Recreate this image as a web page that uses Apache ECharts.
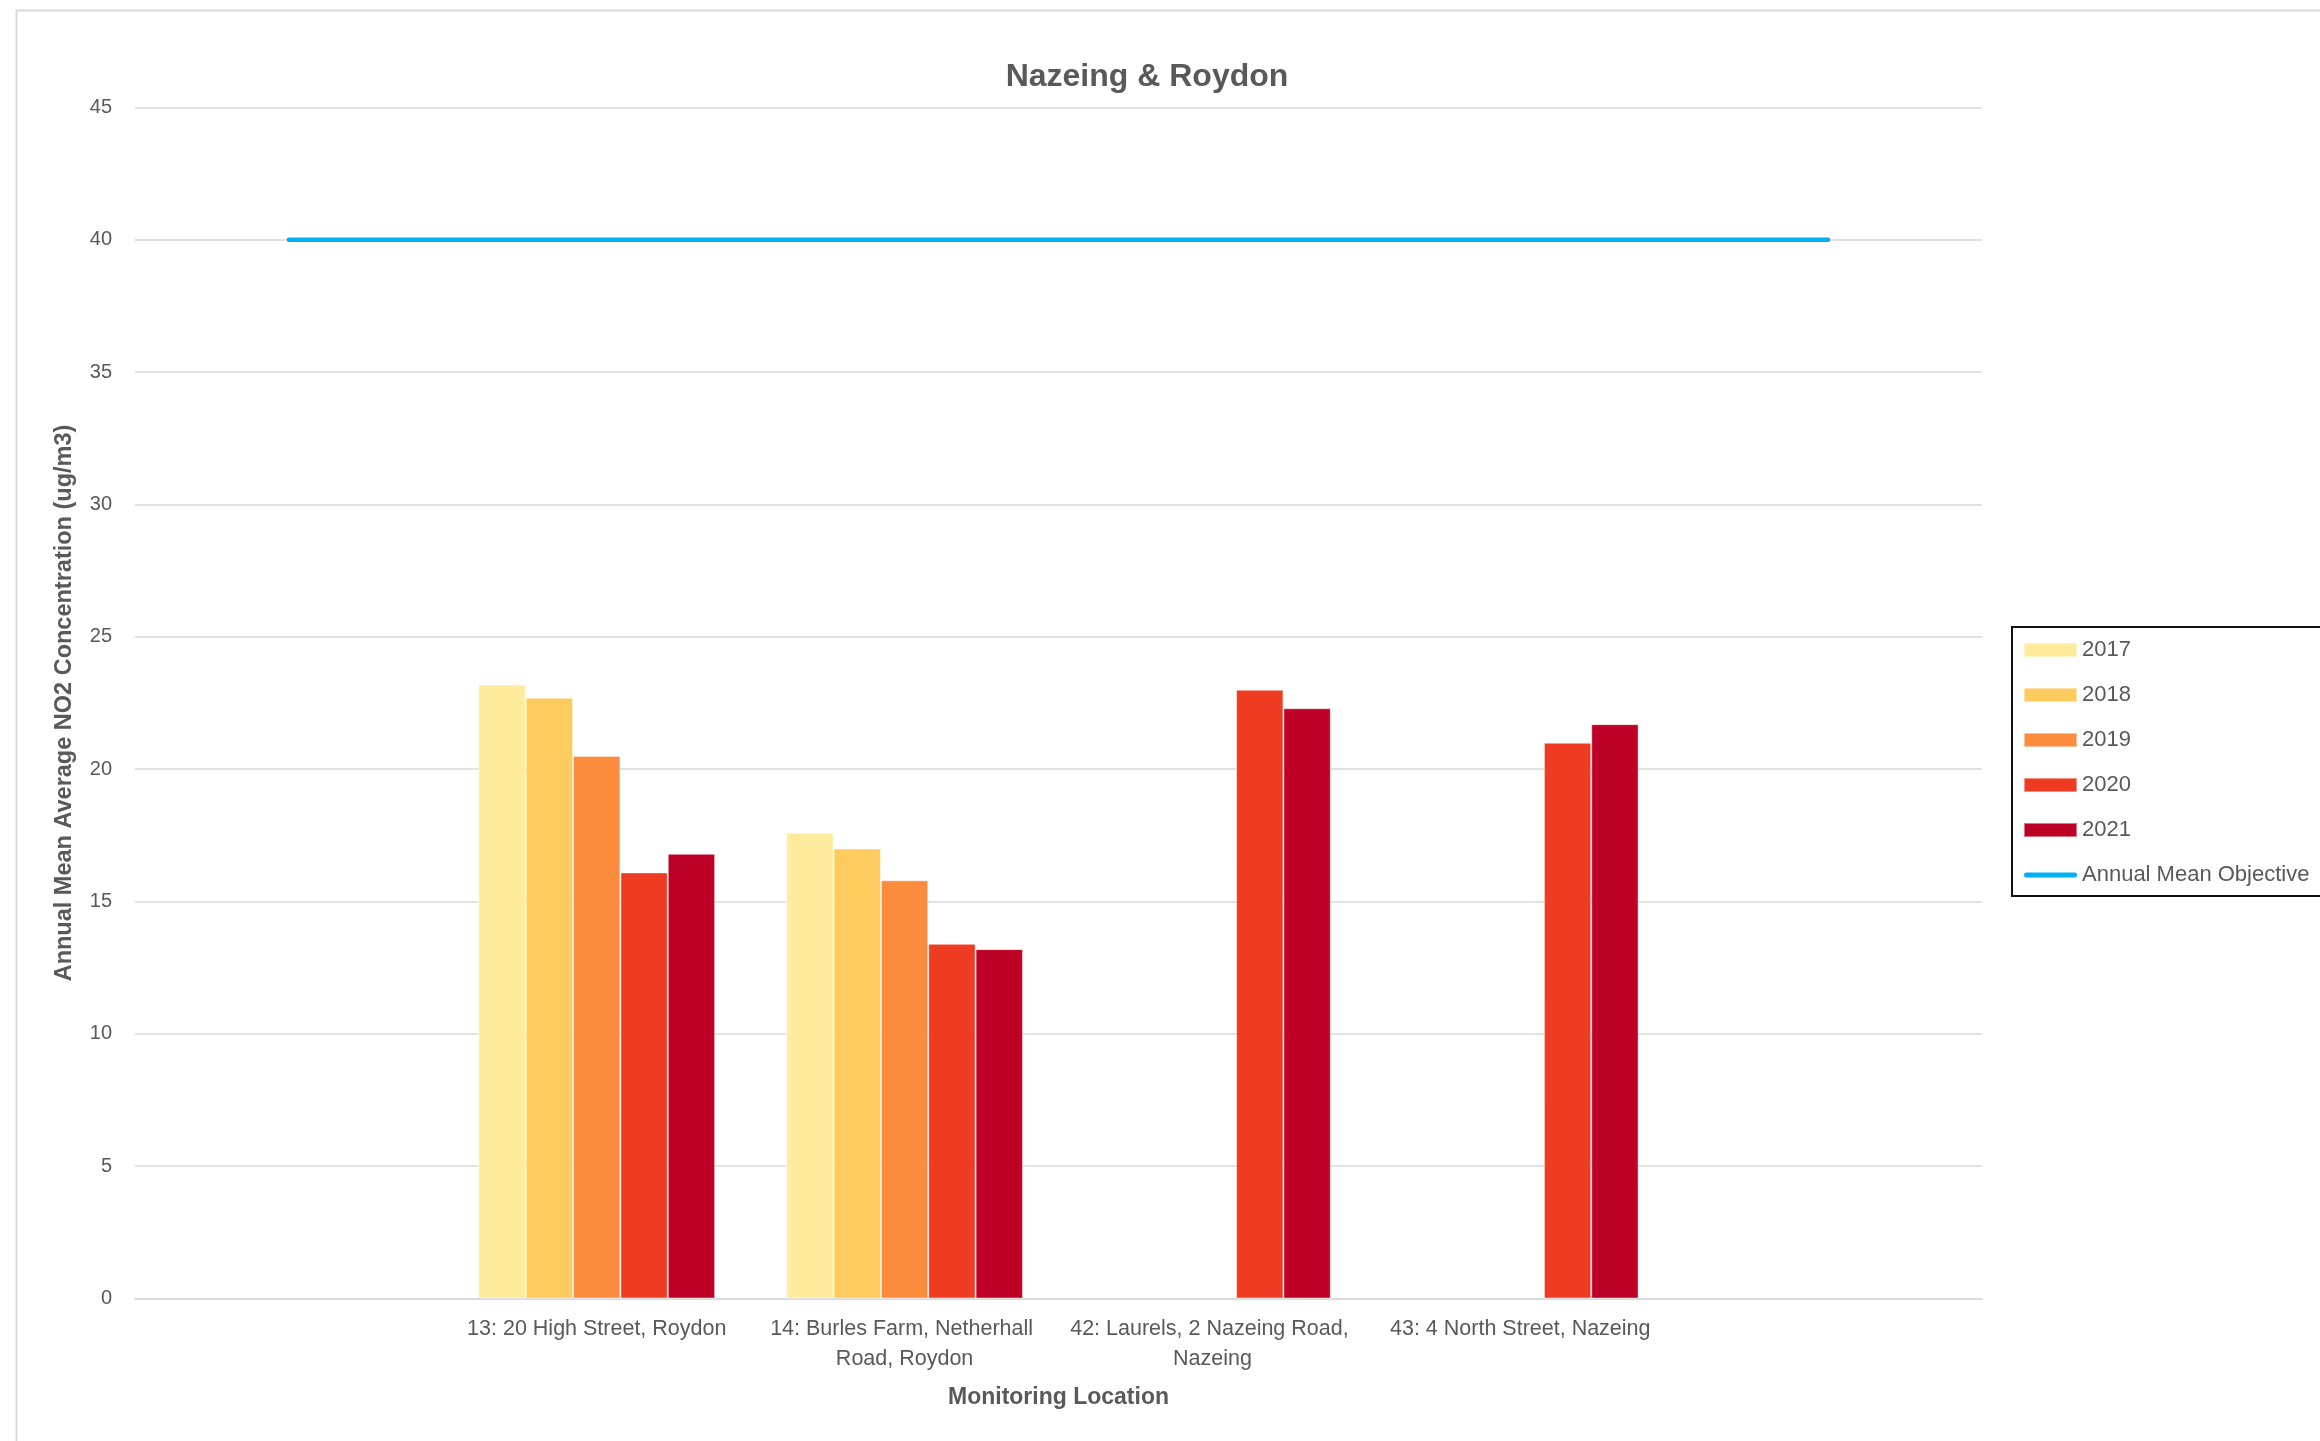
<!DOCTYPE html>
<html>
<head>
<meta charset="utf-8">
<title>Nazeing &amp; Roydon</title>
<script src="https://cdn.jsdelivr.net/npm/echarts@6/dist/echarts.min.js"></script>
<style>
  html, body { margin: 0; padding: 0; background: #ffffff; }
  #chart { width: 2320px; height: 1441px; }
</style>
</head>
<body>
<div id="chart"></div>
<script>
// Monitoring locations (blank slots at each end pad the objective line)
const categories = [
  '',
  '13: 20 High Street, Roydon',
  '14: Burles Farm, Netherhall Road, Roydon',
  '42: Laurels, 2 Nazeing Road, Nazeing',
  '43: 4 North Street, Nazeing',
  ''
];

// Annual mean NO2 (ug/m3) per year; null where a site was not monitored
const years = ['2017', '2018', '2019', '2020', '2021'];
const no2_2017 = [null, 23.2, 17.6, null, null, null];
const no2_2018 = [null, 22.7, 17.0, null, null, null];
const no2_2019 = [null, 20.5, 15.8, null, null, null];
const no2_2020 = [null, 16.1, 13.4, 23.0, 21.0, null];
const no2_2021 = [null, 16.8, 13.2, 22.3, 21.7, null];
const objectiveName = 'Annual Mean Objective';
const objective = [40, 40, 40, 40, 40, 40];

const yTicks = { min: 0, max: 45, interval: 5 };

const yearColours = ['#FFEB9C', '#FECB5F', '#FC8C3D', '#EF3B22', '#BD0026'];
const yearValues = [no2_2017, no2_2018, no2_2019, no2_2020, no2_2021];

const FONT = '"Liberation Sans", Arial, sans-serif';
const GREY = '#595959';

const barSeries = years.map((y, i) => ({
  name: y,
  type: 'bar',
  data: yearValues[i],
  barGap: '0%',
  barCategoryGap: '23.1%',
  itemStyle: {
    color: yearColours[i],
    borderColor: 'rgba(255,255,255,0.45)',
    borderWidth: 1
  },
  emphasis: { disabled: true }
}));

const chart = echarts.init(document.getElementById('chart'), null, { renderer: 'canvas' });

chart.setOption({
  animation: false,
  backgroundColor: '#ffffff',
  textStyle: { fontFamily: FONT },
  title: {
    text: 'Nazeing & Roydon',
    left: 1147,
    top: 61,
    padding: 0,
    textAlign: 'center',
    textStyle: { fontFamily: FONT, fontSize: 32, fontWeight: 'bold', color: GREY }
  },
  graphic: [{
    type: 'rect',
    left: 14,
    top: 8,
    shape: { x: 0, y: 0, width: 2400, height: 1500 },
    style: { fill: 'none', stroke: '#D9D9D9', lineWidth: 2 },
    silent: true,
    z: -1
  }],
  legend: {
    orient: 'vertical',
    left: 2012,
    top: 627,
    padding: [12, 80, 10, 11],
    borderColor: '#111111',
    borderWidth: 2,
    itemWidth: 53,
    itemHeight: 14,
    itemGap: 23,
    icon: 'rect',
    selectedMode: false,
    textStyle: { fontFamily: FONT, fontSize: 22, lineHeight: 22, color: GREY },
    data: years.map(y => ({ name: y })).concat([{
      name: objectiveName,
      icon: 'path://M2.5,0 L50.5,0 A2.5,2.5 0 0 1 50.5,5 L2.5,5 A2.5,2.5 0 0 1 2.5,0 Z',
      itemStyle: { color: '#00B0F0', borderWidth: 0 }
    }])
  },
  grid: {
    left: 135,
    right: 338,
    top: 107.5,
    bottom: 142.5,
    containLabel: false
  },
  xAxis: {
    type: 'category',
    data: categories,
    name: 'Monitoring Location',
    nameLocation: 'middle',
    nameGap: 88,
    nameTextStyle: { fontFamily: FONT, fontSize: 23, fontWeight: 'bold', color: GREY },
    axisLine: { show: true, lineStyle: { color: '#D9D9D9', width: 1.5 } },
    axisTick: { show: false },
    axisLabel: {
      interval: 0,
      margin: 16,
      width: 300,
      overflow: 'break',
      lineHeight: 30,
      fontFamily: FONT,
      fontSize: 21.5,
      color: GREY
    },
    splitLine: { show: false }
  },
  yAxis: {
    type: 'value',
    min: yTicks.min,
    max: yTicks.max,
    interval: yTicks.interval,
    name: 'Annual Mean Average NO2 Concentration (ug/m3)',
    nameLocation: 'middle',
    nameGap: 58,
    nameTextStyle: { fontFamily: FONT, fontSize: 23.5, fontWeight: 'bold', color: GREY },
    axisLine: { show: false },
    axisTick: { show: false },
    axisLabel: { margin: 23, fontFamily: FONT, fontSize: 20, color: GREY },
    splitLine: { show: true, lineStyle: { color: '#D9D9D9', width: 1.5 } }
  },
  series: barSeries.concat([{
    name: objectiveName,
    type: 'line',
    data: objective,
    symbol: 'none',
    showSymbol: false,
    z: 5,
    itemStyle: { color: '#00B0F0' },
    lineStyle: { color: '#00B0F0', width: 4.5, cap: 'round' },
    emphasis: { disabled: true }
  }])
});
</script>
</body>
</html>
